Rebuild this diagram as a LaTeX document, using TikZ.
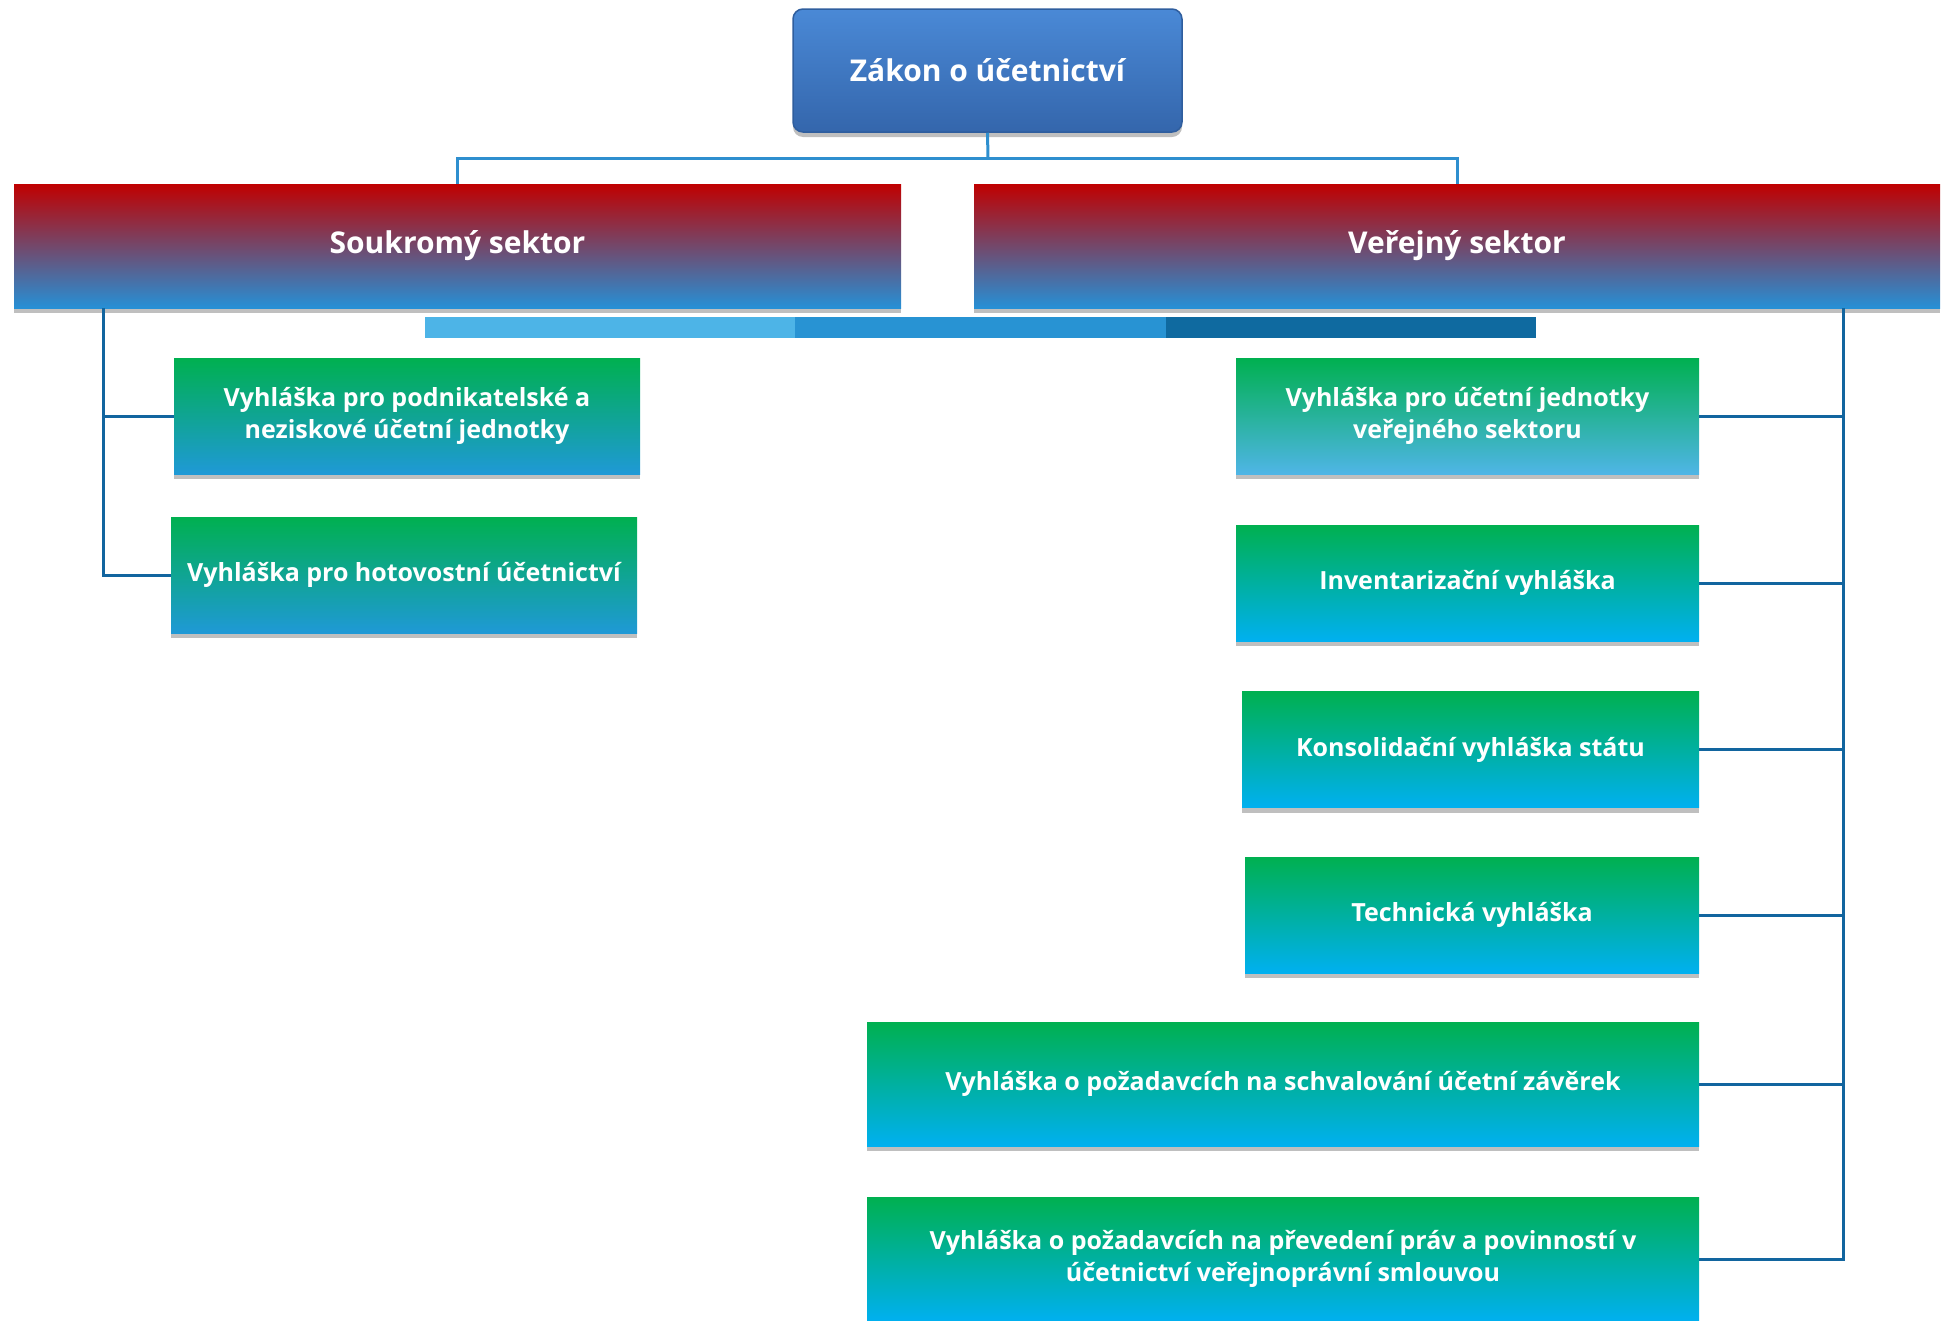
\documentclass[tikz,border=0pt]{standalone}
\usepackage{fontspec}
\setmainfont{Open Sans}
\usetikzlibrary{positioning,shadows}
\definecolor{lawtop}{HTML}{4A89D6}
\definecolor{lawbot}{HTML}{3466AC}
\definecolor{lawedge}{HTML}{2F5E9E}
\definecolor{sectred}{HTML}{C00000}
\definecolor{sectblue}{HTML}{2690D6}
\definecolor{decgreen}{HTML}{00B050}
\definecolor{deccyan}{HTML}{00B0F0}
\definecolor{decblue}{HTML}{1F99D6}
\definecolor{declight}{HTML}{4FB5E6}
\definecolor{barone}{HTML}{4DB4E7}
\definecolor{bartwo}{HTML}{2893D3}
\definecolor{barthree}{HTML}{0F6AA0}
\definecolor{linetop}{HTML}{2E8FCF}
\definecolor{linetree}{HTML}{12659F}

\tikzset{
  soft shadow/.style={drop shadow={shadow xshift=0pt, shadow yshift=-5pt, opacity=0.25, fill=black}},
  law/.style={draw=lawedge, line width=1.5pt, rounded corners=10pt,
    top color=lawtop, bottom color=lawbot, text=white,
    font=\fontsize{30}{35}\selectfont\bfseries,
    minimum width=389pt, minimum height=123pt, soft shadow},
  sector/.style={top color=sectred, bottom color=sectblue, text=white,
    font=\fontsize{30}{35}\selectfont\bfseries,
    minimum height=124pt, soft shadow},
  decree/.style={top color=decgreen, bottom color=deccyan, text=white,
    font=\fontsize{25}{32}\selectfont\bfseries, align=center,
    minimum height=116pt, soft shadow},
  link/.style={draw=linetree, line width=3pt},
  toplink/.style={draw=linetop, line width=3pt}
}

\begin{document}
\begin{tikzpicture}[x=1pt, y=-1pt]
  \useasboundingbox (0,0) rectangle (1941,1320);

  % law on top
  \node[law] (zakon) at (987.5,70.5) {Zákon o účetnictví};

  % the two sectors
  \node[sector, minimum width=887pt] (soukromy) at (457.5,246) {Soukromý sektor};
  \node[sector, minimum width=966pt] (verejny) at (1457,246) {Veřejný sektor};

  % three-part bar
  \fill[barone] (425,317) rectangle (795,338);
  \fill[bartwo] (795,317) rectangle (1166,338);
  \fill[barthree] (1166,317) rectangle (1536,338);

  % private sector decrees
  \node[decree, bottom color=decblue, minimum width=466pt] (l1) at (407,416)
    {Vyhláška pro podnikatelské a\\neziskové účetní jednotky};
  \node[decree, bottom color=decblue, minimum width=466pt] (l2) at (404,575)
    {Vyhláška pro hotovostní účetnictví};

  % public sector decrees
  \node[decree, bottom color=declight, minimum width=463pt] (r1) at (1467.5,416)
    {Vyhláška pro účetní jednotky\\veřejného sektoru};
  \node[decree, minimum width=463pt] (r2) at (1467.5,583) {Inventarizační vyhláška};
  \node[decree, minimum width=457pt] (r3) at (1470.5,749.5) {Konsolidační vyhláška státu};
  \node[decree, minimum width=454pt] (r4) at (1472,915) {Technická vyhláška};
  \node[decree, minimum width=832pt, minimum height=124pt] (r5) at (1283,1084)
    {Vyhláška o požadavcích na schvalování účetní závěrek};
  \node[decree, minimum width=832pt, minimum height=124pt] (r6) at (1283,1259)
    {Vyhláška o požadavcích na převedení práv a povinností v\\účetnictví veřejnoprávní smlouvou};

  % connectors
  \coordinate (hub) at (988,158);
  \draw[toplink] (zakon.south) -- (hub);
  \draw[toplink] (hub) -| (soukromy.north);
  \draw[toplink] (hub) -| (verejny.north);

  \coordinate (ltrunk) at (103,308);
  \foreach \n in {l1,l2}
    \draw[link] (ltrunk) |- (\n.west);

  \coordinate (rtrunk) at (1843,308);
  \foreach \n in {r1,r2,r3,r4,r5,r6}
    \draw[link] (rtrunk) |- (\n.east);
\end{tikzpicture}
\end{document}
